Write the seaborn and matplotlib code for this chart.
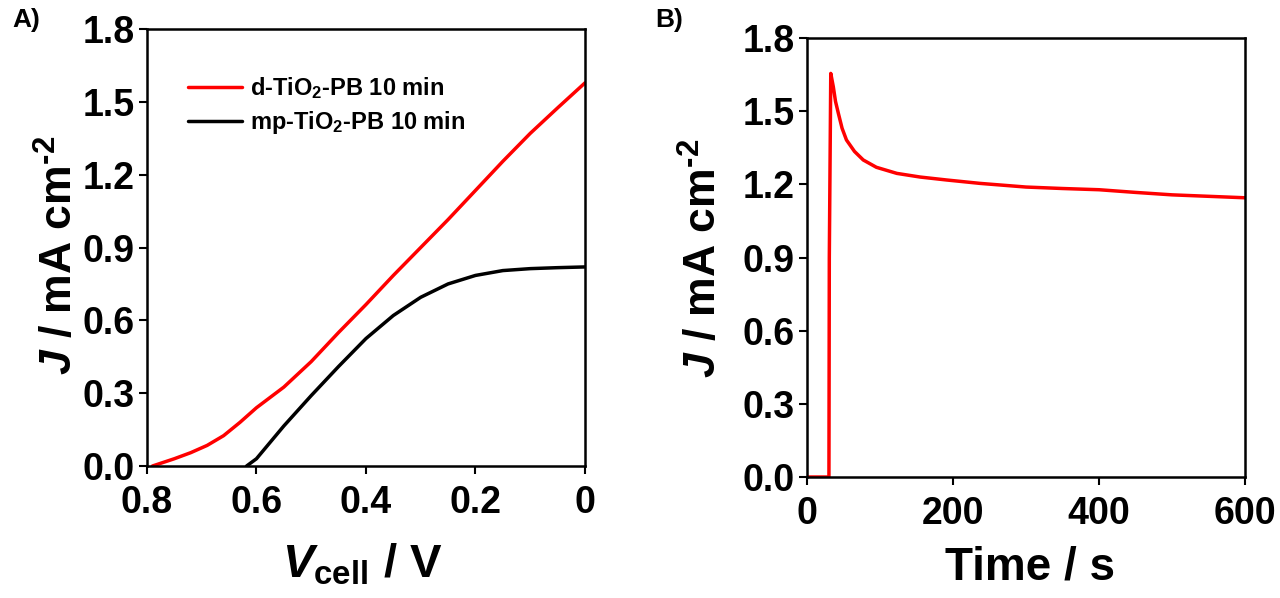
import numpy as np
import pandas as pd
import matplotlib
matplotlib.use("Agg")
import matplotlib.pyplot as plt
import seaborn as sns

# ---- data ----
v_red = [0.79, 0.75, 0.72, 0.69, 0.66, 0.63, 0.60, 0.55, 0.50, 0.45, 0.40, 0.35, 0.30, 0.25, 0.20, 0.15, 0.10, 0.05, 0.0]
j_red = [0.0, 0.03, 0.055, 0.085, 0.125, 0.18, 0.24, 0.325, 0.43, 0.55, 0.665, 0.785, 0.90, 1.015, 1.135, 1.255, 1.37, 1.475, 1.578]
v_black = [0.618, 0.60, 0.55, 0.50, 0.45, 0.40, 0.35, 0.30, 0.25, 0.20, 0.15, 0.10, 0.05, 0.0]
j_black = [0.0, 0.03, 0.165, 0.29, 0.41, 0.525, 0.62, 0.695, 0.75, 0.785, 0.805, 0.813, 0.817, 0.82]
t_b = [0, 30, 30.5, 32.5, 36, 39, 43, 48, 54, 65, 77, 95, 123, 155, 191, 237, 300, 350, 400, 450, 500, 550, 600]
j_b = [0.0, 0.0, 0.9, 1.655, 1.60, 1.54, 1.49, 1.43, 1.382, 1.335, 1.30, 1.27, 1.245, 1.23, 1.218, 1.204, 1.189, 1.183, 1.178, 1.167, 1.157, 1.151, 1.145]
labels = ["d-TiO$_2$-PB 10 min", "mp-TiO$_2$-PB 10 min"]
xticks_a = [0.8, 0.6, 0.4, 0.2, 0.0]
xticklabels_a = ["0.8", "0.6", "0.4", "0.2", "0"]
yticks = [0.0, 0.3, 0.6, 0.9, 1.2, 1.5, 1.8]
xticks_b = [0, 200, 400, 600]

sns.set_theme(style="ticks")
plt.rcParams["font.family"] = ["Liberation Sans", "DejaVu Sans"]
plt.rcParams["font.weight"] = "bold"
plt.rcParams["mathtext.fontset"] = "custom"
plt.rcParams["mathtext.rm"] = "Liberation Sans:bold"
plt.rcParams["mathtext.it"] = "Liberation Sans:italic:bold"
plt.rcParams["mathtext.bf"] = "Liberation Sans:bold"
for k in ["text.color", "axes.labelcolor", "xtick.color", "ytick.color", "axes.edgecolor"]:
    plt.rcParams[k] = "black"

fig = plt.figure(figsize=(12.8, 5.98), dpi=100)
axA = fig.add_axes([0.1148, 0.2207, 0.3422, 0.7308])
axB = fig.add_axes([0.6305, 0.2023, 0.3422, 0.7341])

dfa = pd.concat([
    pd.DataFrame({"V": v_red, "J": j_red, "s": labels[0]}),
    pd.DataFrame({"V": v_black, "J": j_black, "s": labels[1]}),
])
sns.lineplot(data=dfa, x="V", y="J", hue="s", palette=["#ff0000", "#000000"],
             sort=False, estimator=None, ax=axA, linewidth=2.5)
dfb = pd.DataFrame({"t": t_b, "J": j_b})
sns.lineplot(data=dfb, x="t", y="J", color="#ff0000", sort=False, estimator=None,
             ax=axB, linewidth=2.5)

tick_fs = 27
ylab = r"$\mathit{J}$ / mA cm$^{\text{-}2}$"
for ax in (axA, axB):
    ax.set_ylim(0, 1.8)
    ax.set_yticks(yticks)
    ax.set_yticklabels([f"{y:.1f}" for y in yticks])
    ax.tick_params(direction="out", length=6, width=1.5, labelsize=tick_fs, pad=3, colors="black")
    for sp in ax.spines.values():
        sp.set_visible(True)
        sp.set_linewidth(1.8)
        sp.set_color("black")
    ax.set_ylabel(ylab, fontsize=32, fontweight="bold")

axA.set_xlim(0.8, 0.0)
axA.set_xticks(xticks_a)
axA.set_xticklabels(xticklabels_a)
axA.set_xlabel(r"$\mathit{V}_{\mathrm{cell}}$ / V", fontsize=34, fontweight="bold")

axB.set_xlim(0, 600)
axB.set_xticks(xticks_b)
axB.set_xticklabels([str(x) for x in xticks_b])
axB.set_xlabel("Time / s", fontsize=33, fontweight="bold")

for ax in (axA, axB):
    ax.tick_params(axis="x", pad=8)
    for lab in ax.get_xticklabels() + ax.get_yticklabels():
        lab.set_fontweight("bold")
        lab.set_fontsize(tick_fs)

axA.yaxis.set_label_coords(-0.148, 0.483)
axB.yaxis.set_label_coords(-0.185, 0.499)
axA.xaxis.set_label_coords(0.491, -0.174)
axB.xaxis.set_label_coords(0.509, -0.155)

leg = axA.legend(loc="upper left", bbox_to_anchor=(0.093, 0.895), frameon=False,
                 handlelength=2.3, handletextpad=0.35, labelspacing=0.36,
                 borderpad=0, borderaxespad=0,
                 prop={"weight": "bold", "size": 17})
for line in leg.get_lines():
    line.set_linewidth(2.5)

fig.text(12 / 1280, 1 - 20 / 598, "A)", fontsize=19, fontweight="bold", va="center", ha="left")
fig.text(655 / 1280, 1 - 20 / 598, "B)", fontsize=19, fontweight="bold", va="center", ha="left")

fig.savefig("out.png", dpi=100, facecolor="white")
